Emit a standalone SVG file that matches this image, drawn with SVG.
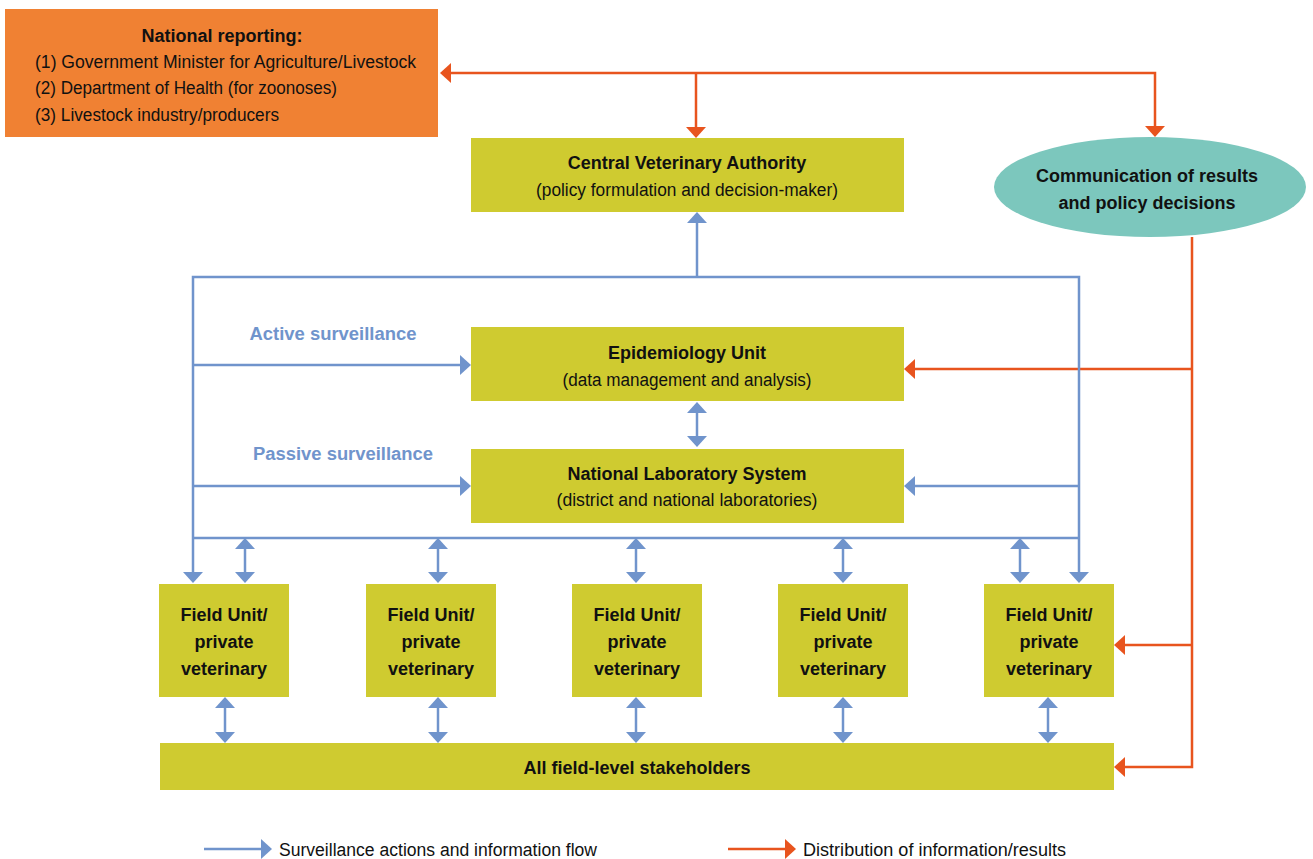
<svg xmlns="http://www.w3.org/2000/svg" width="1313" height="859" viewBox="0 0 1313 859">
  <style>
    text { font-family: "Liberation Sans Narrow", "Liberation Sans", Arial, sans-serif; fill: #111; }
    .t { font-size: 18px; text-anchor: middle; }
    .b { font-weight: bold; }
    .lbl { font-size: 18px; font-weight: bold; fill: #7094CC; }
    .leg { font-size: 18px; }
    .box { fill: #CFCB30; }
    .blue { fill: none; stroke: #7094CC; stroke-width: 2.5; marker-end: url(#ab); }
    .red { fill: none; stroke: #E8541E; stroke-width: 2.5; marker-end: url(#ar); }
    .dbl { marker-start: url(#ab); }
    .reds { marker-start: url(#ar); }
    .plain { marker-end: none; }
  </style>
  <defs>
    <marker id="ab" viewBox="0 0 11 20" refX="0" refY="10" markerWidth="11" markerHeight="20" markerUnits="userSpaceOnUse" orient="auto-start-reverse">
      <path d="M0,0 L11,10 L0,20 Z" fill="#7094CC"/>
    </marker>
    <marker id="ar" viewBox="0 0 11 20" refX="0" refY="10" markerWidth="11" markerHeight="20" markerUnits="userSpaceOnUse" orient="auto-start-reverse">
      <path d="M0,0 L11,10 L0,20 Z" fill="#E8541E"/>
    </marker>
  </defs>

  <!-- connectors -->
  <g id="connectors">
    <!-- distribution of results (orange) -->
    <path class="red reds" d="M451,73 H1155 V126"/>
    <path class="red" d="M696,73 V127"/>
    <path class="red" d="M1192,237 V767 H1125"/>
    <path class="red" d="M1192,369 H915"/>
    <path class="red" d="M1192,645 H1125"/>
    <!-- surveillance actions (blue) -->
    <path class="blue dbl" d="M193,572 V277 H1079 V572"/>
    <path class="blue" d="M697,277 V223"/>
    <path class="blue" d="M193,365 H460"/>
    <path class="blue" d="M193,486 H460"/>
    <path class="blue" d="M1079,486 H915"/>
    <path class="blue plain" d="M193,538 H1079"/>
    <path class="blue dbl" d="M697,413 V436"/>
    <path class="blue dbl" d="M245,549 V572"/>
    <path class="blue dbl" d="M438,549 V572"/>
    <path class="blue dbl" d="M636,549 V572"/>
    <path class="blue dbl" d="M843,549 V572"/>
    <path class="blue dbl" d="M1020,549 V572"/>
    <path class="blue dbl" d="M225,708 V732"/>
    <path class="blue dbl" d="M438,708 V732"/>
    <path class="blue dbl" d="M636,708 V732"/>
    <path class="blue dbl" d="M843,708 V732"/>
    <path class="blue dbl" d="M1048,708 V732"/>
  </g>

  <!-- connector labels -->
  <text class="lbl" x="333" y="340" text-anchor="middle" textLength="167" lengthAdjust="spacingAndGlyphs">Active surveillance</text>
  <text class="lbl" x="343" y="460" text-anchor="middle" textLength="180" lengthAdjust="spacingAndGlyphs">Passive surveillance</text>

  <g id="national-reporting">
    <rect x="5" y="9" width="433" height="128" fill="#F08133"/>
    <text class="t b" x="222" y="42">National reporting:</text>
    <text class="leg" x="35" y="68" textLength="381" lengthAdjust="spacingAndGlyphs">(1) Government Minister for Agriculture/Livestock</text>
    <text class="leg" x="35" y="94" textLength="302" lengthAdjust="spacingAndGlyphs">(2) Department of Health (for zoonoses)</text>
    <text class="leg" x="35" y="121" textLength="244" lengthAdjust="spacingAndGlyphs">(3) Livestock industry/producers</text>
  </g>

  <g id="cva">
    <rect class="box" x="471" y="138" width="433" height="74"/>
    <text class="t b" x="687" y="169">Central Veterinary Authority</text>
    <text class="t" x="687" y="196" textLength="302" lengthAdjust="spacingAndGlyphs">(policy formulation and decision-maker)</text>
  </g>

  <g id="communication">
    <ellipse cx="1150" cy="187" rx="156" ry="50" fill="#7CC7BD"/>
    <text class="t b" x="1147" y="182">Communication of results</text>
    <text class="t b" x="1147" y="209">and policy decisions</text>
  </g>

  <g id="epi-unit">
    <rect class="box" x="471" y="327" width="433" height="74"/>
    <text class="t b" x="687" y="359">Epidemiology Unit</text>
    <text class="t" x="687" y="386" textLength="249" lengthAdjust="spacingAndGlyphs">(data management and analysis)</text>
  </g>

  <g id="lab-system">
    <rect class="box" x="471" y="449" width="433" height="74"/>
    <text class="t b" x="687" y="480">National Laboratory System</text>
    <text class="t" x="687" y="506" textLength="261" lengthAdjust="spacingAndGlyphs">(district and national laboratories)</text>
  </g>

  <g id="field-1">
    <rect class="box" x="159" y="584" width="130" height="113"/>
    <text class="t b" x="224" y="621">Field Unit/</text>
    <text class="t b" x="224" y="648">private</text>
    <text class="t b" x="224" y="675">veterinary</text>
  </g>
  <g id="field-2">
    <rect class="box" x="366" y="584" width="130" height="113"/>
    <text class="t b" x="431" y="621">Field Unit/</text>
    <text class="t b" x="431" y="648">private</text>
    <text class="t b" x="431" y="675">veterinary</text>
  </g>
  <g id="field-3">
    <rect class="box" x="572" y="584" width="130" height="113"/>
    <text class="t b" x="637" y="621">Field Unit/</text>
    <text class="t b" x="637" y="648">private</text>
    <text class="t b" x="637" y="675">veterinary</text>
  </g>
  <g id="field-4">
    <rect class="box" x="778" y="584" width="130" height="113"/>
    <text class="t b" x="843" y="621">Field Unit/</text>
    <text class="t b" x="843" y="648">private</text>
    <text class="t b" x="843" y="675">veterinary</text>
  </g>
  <g id="field-5">
    <rect class="box" x="984" y="584" width="130" height="113"/>
    <text class="t b" x="1049" y="621">Field Unit/</text>
    <text class="t b" x="1049" y="648">private</text>
    <text class="t b" x="1049" y="675">veterinary</text>
  </g>

  <g id="stakeholders">
    <rect class="box" x="160" y="743" width="954" height="47"/>
    <text class="t b" x="637" y="774">All field-level stakeholders</text>
  </g>

  <g id="legend">
    <path class="blue" d="M204,849 H261"/>
    <text class="leg" x="279" y="856" textLength="318" lengthAdjust="spacingAndGlyphs">Surveillance actions and information flow</text>
    <path class="red" d="M728,849 H785"/>
    <text class="leg" x="803" y="856" textLength="263" lengthAdjust="spacingAndGlyphs">Distribution of information/results</text>
  </g>
</svg>
